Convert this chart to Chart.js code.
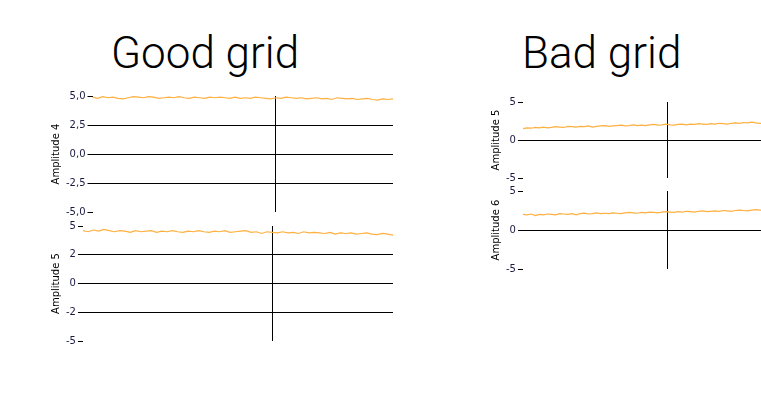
<!DOCTYPE html>
<html><head><meta charset="utf-8">
<script src="https://cdn.jsdelivr.net/npm/chart.js@4"></script>
<style>
body{margin:0;background:#fff;width:761px;height:420px;position:relative;overflow:hidden;font-family:Roboto,sans-serif}
.t{position:absolute;font-family:Roboto;font-weight:300;font-size:44px;color:#000}
.c{position:absolute}
</style></head><body>
<div class="t" style="left:111px;top:27px">Good grid</div>
<div class="t" style="left:522px;top:27px">Bad grid</div>
<div class="c" style="left:48px;top:88px;width:345px;height:132px"><canvas id="c1"></canvas></div>
<div class="c" style="left:48px;top:218px;width:345px;height:131px"><canvas id="c2"></canvas></div>
<div class="c" style="left:488px;top:94px;width:276px;height:92px"><canvas id="c3"></canvas></div>
<div class="c" style="left:488px;top:183px;width:276px;height:94px"><canvas id="c4"></canvas></div>
<script>
const amp4 = [4.9,4.8,4.95,4.85,4.9,4.8,4.75,4.85,4.95,4.9,4.85,4.95,4.9,4.8,4.85,4.9,4.85,4.95,4.85,4.8,4.9,4.85,4.8,4.9,4.85,4.9,4.85,4.8,4.9,4.8,4.85,4.8,4.9,4.85,4.8,4.75,4.85,4.8,4.9,4.85,4.8,4.85,4.75,4.8,4.85,4.75,4.8,4.7,4.85,4.8,4.75,4.8,4.7,4.75,4.8,4.7,4.65,4.75,4.7,4.75];
const amp5L = [4.6,4.5,4.65,4.55,4.7,4.6,4.5,4.6,4.55,4.45,4.6,4.5,4.55,4.6,4.45,4.55,4.5,4.6,4.5,4.45,4.55,4.5,4.6,4.5,4.45,4.55,4.5,4.6,4.45,4.5,4.55,4.6,4.45,4.5,4.35,4.5,4.45,4.4,4.5,4.4,4.45,4.35,4.5,4.4,4.45,4.4,4.35,4.45,4.3,4.4,4.35,4.4,4.3,4.35,4.4,4.3,4.25,4.35,4.3,4.2];
const amp5R = [1.5,1.6,1.55,1.65,1.6,1.7,1.6,1.65,1.75,1.7,1.65,1.8,1.75,1.7,1.8,1.75,1.85,1.7,1.8,1.85,1.9,1.8,1.85,1.9,1.95,1.85,1.9,2.0,1.9,1.95,1.9,2.0,2.05,1.95,2.0,2.1,2.0,1.95,2.05,2.1,2.0,2.1,2.05,2.15,2.1,2.05,2.15,2.1,2.2,2.15,2.1,2.2,2.25,2.2,2.3,2.25,2.35,2.25,2.2,2.15];
const amp6 = [2.0,1.95,2.05,1.85,2.0,1.95,2.05,2.0,1.95,2.1,2.05,2.0,2.1,1.95,2.1,2.15,2.05,2.1,2.2,2.1,2.15,2.1,2.2,2.15,2.1,2.2,2.25,2.2,2.15,2.25,2.2,2.3,2.25,2.2,2.3,2.35,2.3,2.25,2.35,2.3,2.4,2.35,2.3,2.4,2.45,2.35,2.4,2.45,2.4,2.5,2.45,2.4,2.5,2.55,2.5,2.45,2.55,2.6,2.55,2.5];
const goodTicks = [5,2.5,0,-2.5,-5];
const goodTickLabels4 = ['5,0','2,5','0,0','-2,5','-5,0'];
const goodTickLabels5 = ['5','2','0','-2','-5'];
const badTicks = [5,0,-5];
const badTickLabels = ['5','0','-5'];

function mk(id, data, ticks, labels, title, vx){
  const pts = data.map((v,i)=>({x:i*100/(data.length-1), y:v}));
  new Chart(document.getElementById(id), {
    type:'line',
    data:{datasets:[{data:pts,borderColor:'#FFB040',borderWidth:1.2,pointRadius:0,tension:0}]},
    options:{
      responsive:true,maintainAspectRatio:false,animation:false,
      plugins:{legend:{display:false},tooltip:{enabled:false}},
      layout:{padding:{top:2,right:0,bottom:0,left:0}},
      scales:{
        x:{type:'linear',min:0,max:100,
          afterBuildTicks:s=>{s.ticks=[{value:vx}];},
          ticks:{display:false},border:{display:false},
          grid:{color:'#000',lineWidth:1,drawTicks:false}},
        y:{min:-5,max:5,
          afterBuildTicks:s=>{s.ticks=ticks.map(v=>({value:v}));},
          ticks:{callback:(v,i)=>labels[i],color:'#1a1a40',font:{family:'DejaVu Sans',size:10},padding:2},
          border:{display:false},
          title:{display:true,text:title,color:'#000',font:{family:'DejaVu Sans',size:10},padding:2},
          grid:{color:c=>(c.tick&&Math.abs(c.tick.value)<5)?'#000':'rgba(0,0,0,0)',tickColor:'#000',tickLength:5,lineWidth:1}}
      }
    }
  });
}
mk('c1',amp4,goodTicks,goodTickLabels4,'Amplitude 4',61);
mk('c2',amp5L,goodTicks,goodTickLabels5,'Amplitude 5',61);
mk('c3',amp5R,badTicks,badTickLabels,'Amplitude 5',60);
mk('c4',amp6,badTicks,badTickLabels,'Amplitude 6',60);
</script></body></html>
